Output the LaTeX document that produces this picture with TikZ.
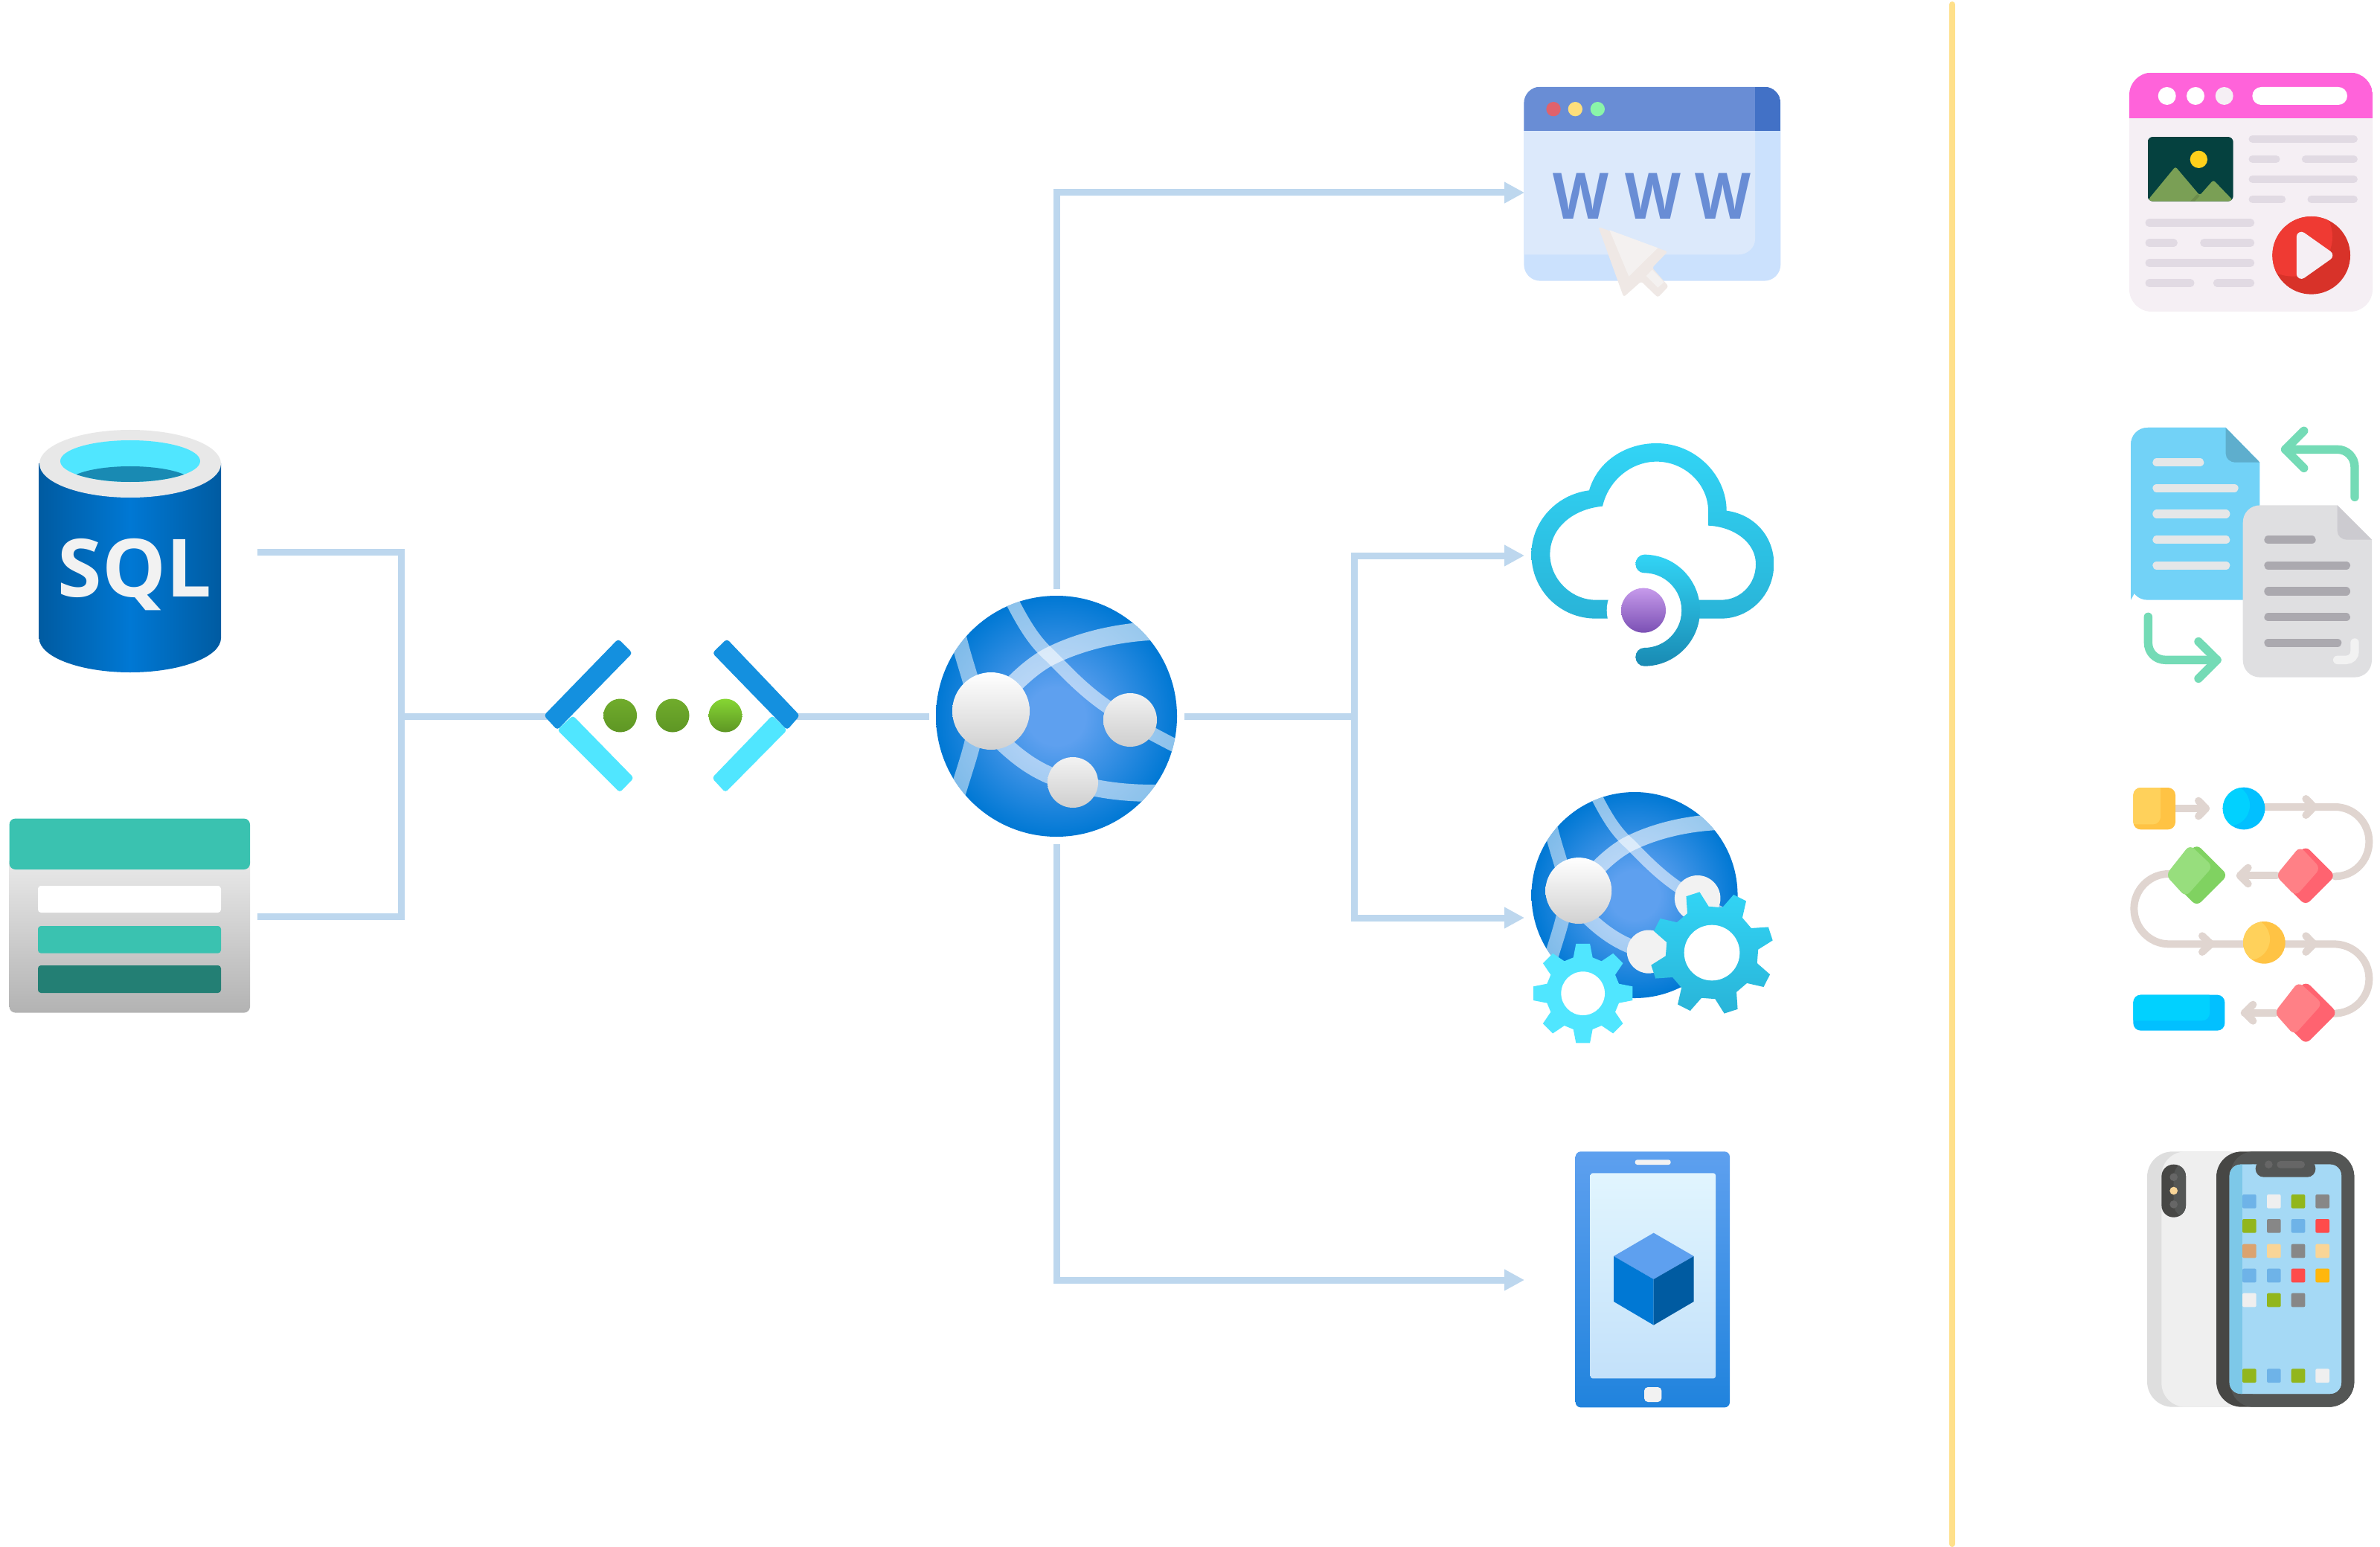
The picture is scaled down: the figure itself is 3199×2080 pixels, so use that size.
\documentclass[tikz,border=0pt]{standalone}
\usepackage{fontspec}
\usepackage{graphicx}
\setmainfont{Open Sans}
\usetikzlibrary{arrows.meta}
\definecolor{connC}{HTML}{BDD7EE}
\definecolor{divC}{HTML}{FFE08A}
\definecolor{azDark}{HTML}{005BA1}
\definecolor{azMid}{HTML}{0078D4}
\definecolor{azGlow}{HTML}{5EA0EF}
\definecolor{azCyan}{HTML}{50E6FF}
\definecolor{azSky}{HTML}{32D4F5}
\definecolor{azSkyB}{HTML}{29B4D8}
\definecolor{azDeep}{HTML}{198AB3}
\definecolor{azBright}{HTML}{1490DF}
\definecolor{teal}{HTML}{3AC2B0}
\definecolor{tealD}{HTML}{237F74}
\definecolor{wwwB}{HTML}{698DD5}
\definecolor{wwwD}{HTML}{4271C6}
\definecolor{wwwL}{HTML}{DCE9FB}
\definecolor{wwwM}{HTML}{CBE1FD}
\definecolor{curA}{HTML}{EFE8E5}
\definecolor{curB}{HTML}{F4F1F0}
\definecolor{pinkH}{HTML}{FF63DA}
\definecolor{pageB}{HTML}{F5EFF4}
\definecolor{pageL}{HTML}{E1DAE3}
\definecolor{imgD}{HTML}{05413F}
\definecolor{mountC}{HTML}{7A9F55}
\definecolor{playL}{HTML}{EF3A33}
\definecolor{playD}{HTML}{D83229}
\definecolor{flowL}{HTML}{E0D5D0}
\definecolor{yelA}{HTML}{FFC344}
\definecolor{yelB}{HTML}{FFD15B}
\definecolor{bluA}{HTML}{02C0FF}
\definecolor{bluB}{HTML}{01D1FF}
\definecolor{redA}{HTML}{FF6370}
\definecolor{redB}{HTML}{FF8086}
\definecolor{grnA}{HTML}{80D261}
\definecolor{grnB}{HTML}{97DE7D}
\definecolor{docB}{HTML}{72D2F7}
\definecolor{docBf}{HTML}{5EAECD}
\definecolor{docG}{HTML}{DFDFE1}
\definecolor{docGf}{HTML}{CCCBD0}
\definecolor{docGl}{HTML}{ABA9AF}
\definecolor{docWl}{HTML}{E5E7E8}
\definecolor{arrG}{HTML}{74DBB6}
\definecolor{phD}{HTML}{545655}
\definecolor{phE}{HTML}{474745}
\definecolor{phS}{HTML}{666666}
\definecolor{scrA}{HTML}{A5D9F5}
\definecolor{scrB}{HTML}{7DC8E8}
\definecolor{appB}{HTML}{6EB3E8}
\definecolor{appW}{HTML}{EFEFEF}
\definecolor{appG}{HTML}{92B61C}
\definecolor{appK}{HTML}{878787}
\definecolor{appR}{HTML}{FF4B4B}
\definecolor{appO}{HTML}{DBA36F}
\definecolor{appC}{HTML}{F9D597}
\definecolor{appY}{HTML}{FFB70D}
\pgfdeclareradialshading{globeglow}{\pgfpoint{0bp}{0bp}}{color(0bp)=(azGlow);color(6bp)=(azGlow);color(25bp)=(azMid);color(50bp)=(azMid)}
\tikzset{
  conn/.style={draw=connC,line width=4.5pt,line join=miter},
  connarrow/.style={conn,-{Triangle[length=13.5pt,width=13.5pt]}},
  zoomed/.style={scale=0.33333},
  bar/.style={line cap=round,line width=#1},
  ballshade/.style={top color=white,bottom color=black!18},
  ballsmall/.style={top color=black!5,bottom color=black!19},
  ballflat/.style={top color=black!5,bottom color=black!5},
  wletter/.style={text=wwwB,font=\bfseries\fontsize{43pt}{43pt}\selectfont,inner sep=0pt,anchor=base},
}
% globe: centre x, centre y, scale, style of the two small balls
\newcommand{\globeicon}[4]{%
  \begin{scope}[shift={(#1,#2)},scale=#3]
    \shade[shading=globeglow] (0,0) circle[radius=162];
    \begin{scope}
      \clip (0,0) circle[radius=162];
      \draw[white,opacity=.55,line width=#3*9pt] (-65,-165) .. controls (-45,-125) and (-30,-100) .. (-8,-81) .. controls (15,-58) and (40,-30) .. (80,-5) .. controls (100,8) and (130,25) .. (170,45);
      \draw[white,opacity=.6,line width=#3*12.5pt] (-88,-7) .. controls (-60,-45) and (-30,-70) .. (-8,-81) .. controls (30,-100) and (80,-113) .. (135,-115);
      \draw[white,opacity=.5,line width=#3*11pt] (-135,-120) .. controls (-125,-70) and (-105,-30) .. (-108,0) .. controls (-108,30) and (-120,60) .. (-135,110);
      \draw[white,opacity=.55,line width=#3*11.5pt] (-88,20) .. controls (-60,50) and (-25,80) .. (22,89) .. controls (60,100) and (100,105) .. (150,103);
    \end{scope}
    \shade[ballshade] (-88,-7) circle[radius=52];
    \shade[#4] (99,5) circle[radius=36];
    \shade[#4] (22,89) circle[radius=34];
  \end{scope}}
% gear: cx, cy, root r, tip r, half base angle, half tip angle, phase, style
\newcommand{\gearicon}[8]{%
  \shade[#8] ({#1+#3*cos(#7-#5)},{#2-#3*sin(#7-#5)})
    \foreach \k in {0,...,7}{
      -- ({#1+#3*cos(#7+45*\k-#5)},{#2-#3*sin(#7+45*\k-#5)})
      -- ({#1+#4*cos(#7+45*\k-#6)},{#2-#4*sin(#7+45*\k-#6)})
      -- ({#1+#4*cos(#7+45*\k+#6)},{#2-#4*sin(#7+45*\k+#6)})
      -- ({#1+#3*cos(#7+45*\k+#5)},{#2-#3*sin(#7+45*\k+#5)})
    } -- cycle;}
% rounded flow diamond: cx, cy, half size, dark, light
\newcommand{\flowdiamond}[5]{%
  \fill[#4,rounded corners=4pt] (#1-#3,#2) -- (#1,#2-#3) -- (#1+#3,#2) -- (#1,#2+#3) -- cycle;
  \fill[#5,rounded corners=4pt] (#1-#3,#2) -- (#1-#3+97,#2-#3+2) -- (#1+#3-60,#2-#3+90) -- (#1-#3+80,#2+#3-37) -- cycle;}
\begin{document}
\begin{tikzpicture}[x=0.5pt,y=-0.5pt]
\useasboundingbox (0,0) rectangle (3199,2080);
\fill[white] (0,0) rectangle (3199,2080);

% connector ends
\coordinate (sqlOut) at (346,742);
\coordinate (stoOut) at (346,1232);
\coordinate (bus) at (539,963);
\coordinate (vnetIn) at (760,963);
\coordinate (vnetOut) at (1060,963);
\coordinate (appIn) at (1249,963);
\coordinate (appTop) at (1420,792);
\coordinate (appBottom) at (1420,1135);
\coordinate (appRight) at (1592,963);
\coordinate (hub) at (1820,963);
\coordinate (wwwIn) at (2049,259);
\coordinate (cloudIn) at (2049,747);
\coordinate (gearIn) at (2049,1234);
\coordinate (mobileIn) at (2049,1721);
\coordinate (divTop) at (2624,6);
\coordinate (divBottom) at (2624,2076);

\draw[conn] (sqlOut) -| (bus) |- (stoOut);
\draw[conn] (bus) -- (vnetIn);
\draw[conn] (vnetOut) -- (appIn);
\draw[connarrow] (appTop) |- (wwwIn);
\draw[connarrow] (appBottom) |- (mobileIn);
\draw[conn] (appRight) -- (hub);
\draw[connarrow] (hub) |- (cloudIn);
\draw[connarrow] (hub) |- (gearIn);
\draw[draw=divC,line width=4pt,line cap=round] (divTop) -- (divBottom);

% SQL cylinder
\shade[left color=azDark,right color=azDark,middle color=azMid] (52.6,623) -- (52.6,858) .. controls (52.6,883) and (107,904) .. (175,904) .. controls (243,904) and (297,883) .. (297,858) -- (297,623) -- cycle;
\fill[black!9] (175,623.5) ellipse[x radius=122,y radius=45.5];
\fill[azCyan] (175,620) ellipse[x radius=94,y radius=28];
\begin{scope}
  \clip (175,620) ellipse[x radius=94,y radius=28];
  \fill[azDeep] (175,650) ellipse[x radius=85,y radius=23];
\end{scope}
\node[text=black!5,font=\bfseries\fontsize{54pt}{54pt}\selectfont,inner sep=0pt,anchor=base] (sqlText) at (181,802) {SQL};

% storage table
\shade[top color=black!8,bottom color=black!30,rounded corners=4pt] (12.6,1150) rectangle (336,1361.6);
\fill[teal,rounded corners=4pt] (12.6,1169) -- (12.6,1100.6) -- (336,1100.6) -- (336,1169) -- cycle;
\fill[white,rounded corners=2pt] (51,1191) rectangle (297,1227);
\fill[teal,rounded corners=2pt] (51,1245) rectangle (297,1281.6);
\fill[tealD,rounded corners=2pt] (51,1298) rectangle (297,1335);

% virtual network brackets
\fill[azCyan,rounded corners=2pt] (749,981.5) -- (770,962) -- (852,1046) -- (833,1065.5) -- cycle;
\fill[azBright,rounded corners=2pt] (731,962) -- (831,859) -- (850,878) -- (749,981.5) -- cycle;
\fill[azCyan,rounded corners=2pt] (1038,962) -- (1058,981.5) -- (975,1065.5) -- (957,1046) -- cycle;
\fill[azBright,rounded corners=2pt] (977,859) -- (1075,962) -- (1058,981.5) -- (957.5,878) -- cycle;
\shade[top color=green!45!black!80!white,bottom color=green!45!black!80!white,top color={rgb,255:red,112;green,172;blue,44},bottom color={rgb,255:red,94;green,150;blue,36}] (833.6,962) circle[radius=22.5];
\shade[top color={rgb,255:red,112;green,172;blue,44},bottom color={rgb,255:red,94;green,150;blue,36}] (904,962) circle[radius=22.5];
\shade[top color={rgb,255:red,134;green,214;blue,51},bottom color={rgb,255:red,94;green,150;blue,36}] (975,962) circle[radius=22.5];

% central web app globe
\globeicon{1420}{963}{1}{ballsmall}

% www window
\begin{scope}[shift={(2020,90)},zoomed]
  \fill[wwwM,rounded corners=11pt] (85,80) rectangle (1120,863);
  \fill[wwwL] (85,258) -- (1017,258) -- (1017,695) .. controls (1017,730) and (985,757) .. (950,757) -- (85,757) -- cycle;
  \begin{scope}
    \clip[rounded corners=11pt] (85,80) rectangle (1120,400);
    \fill[wwwB] (85,80) rectangle (1017,258);
    \fill[wwwD] (1017,80) rectangle (1120,258);
  \end{scope}
  \fill[white!0!red!55!wwwB,fill={rgb,255:red,224;green,98;blue,108}] (204,170) circle[radius=29];
  \fill[fill={rgb,255:red,255;green,223;blue,123}] (292,170) circle[radius=29];
  \fill[fill={rgb,255:red,138;green,245;blue,169}] (382,170) circle[radius=29];
  \node[wletter] (w1) at (316,615) {\scalebox{.9}[1]{W}};
  \node[wletter] (w2) at (605,615) {\scalebox{.9}[1]{W}};
  \node[wletter] (w3) at (889,615) {\scalebox{.9}[1]{W}};
  \fill[curA,rounded corners=1.5pt] (385,645) -- (665,745) -- (602,810) -- (668,885) -- (625,930) -- (558,865) -- (487,928) -- cycle;
  \fill[curB] (430,658) -- (625,730) -- (508,845) -- cycle;
  \fill[curB] (602,818) -- (650,868) -- (625,890) -- (578,843) -- cycle;
\end{scope}

% cloud
\begin{scope}[shift={(2030,570)},zoomed]
  \shade[top color=azSky,bottom color=azSkyB,even odd rule]
    (345,785) .. controls (200,785) and (85,670) .. (85,525) .. controls (85,395) and (185,285) .. (318,268) .. controls (350,155) and (460,78) .. (590,78) .. controls (745,78) and (872,205) .. (872,350) .. controls (985,365) and (1063,455) .. (1063,565) .. controls (1063,690) and (965,785) .. (850,785) -- cycle
    (345,710) .. controls (245,710) and (160,625) .. (160,525) .. controls (160,430) and (240,345) .. (372,332) .. controls (395,230) and (485,152) .. (590,152) .. controls (705,152) and (798,245) .. (798,350) -- (798,410) .. controls (905,415) and (990,480) .. (990,565) .. controls (990,650) and (925,710) .. (850,710) -- cycle;
  \fill[white] (540,752) circle[radius=151];
  \shade[top color=azSky,bottom color=azDeep] (540,527) .. controls (664,527) and (765,628) .. (765,752) .. controls (765,876) and (664,977) .. (540,977) .. controls (520,977) and (505,960) .. (505,940) .. controls (505,920) and (520,903) .. (540,903) .. controls (623,903) and (691,835) .. (691,752) .. controls (691,669) and (623,601) .. (540,601) .. controls (520,601) and (505,585) .. (505,565) .. controls (505,545) and (520,527) .. (540,527) -- cycle;
  \shade[top color={rgb,255:red,198;green,154;blue,235},bottom color={rgb,255:red,123;green,80;blue,180}] (537,752) circle[radius=90];
\end{scope}

% globe with gears
\globeicon{2197}{1203.5}{.855}{ballflat}
\begin{scope}[shift={(2030,1050)},zoomed]
  \gearicon{813}{693}{187}{250}{14}{6.5}{18}{top color=azSky,bottom color=azSkyB}
  \fill[white] (813,693) circle[radius=112];
  \gearicon{293}{857}{150}{202}{15}{8}{0}{top color=azCyan,bottom color=azCyan}
  \fill[white] (293,857) circle[radius=88];
\end{scope}

% tablet
\begin{scope}[shift={(2090,1530)},zoomed]
  \shade[top color=azGlow,bottom color={rgb,255:red,32;green,131;blue,221},rounded corners=3.5pt] (83,55) rectangle (705,1087);
  \fill[black!5,rounded corners=1.5pt] (323,88) rectangle (467,108);
  \shade[top color={rgb,255:red,225;green,245;blue,254},bottom color={rgb,255:red,195;green,225;blue,250},rounded corners=1.5pt] (143,142) rectangle (648,970);
  \fill[black!5,rounded corners=2.5pt] (360,1005) rectangle (430,1065);
  \fill[azGlow] (398,383) -- (560,477) -- (398,570) -- (237,477) -- cycle;
  \fill[azMid] (237,477) -- (398,570) -- (398,755) -- (237,660) -- cycle;
  \fill[azDark] (398,570) -- (560,477) -- (560,660) -- (398,755) -- cycle;
\end{scope}

% web page with video
\begin{scope}[shift={(2840,80)},zoomed]
  \fill[pageB,rounded corners=15pt] (66,53) rectangle (1047,1017);
  \begin{scope}
    \clip[rounded corners=15pt] (66,53) rectangle (1047,400);
    \fill[pinkH] (66,53) rectangle (1047,238);
  \end{scope}
  \fill[white] (218,147) circle[radius=36];
  \fill[white] (333,147) circle[radius=36];
  \fill[pageB] (449,147) circle[radius=36];
  \fill[white,rounded corners=6pt] (562,111) rectangle (945,183);
  \begin{scope}
    \clip[rounded corners=3.5pt] (140,312) rectangle (485,572);
    \fill[imgD] (140,312) rectangle (485,572);
    \fill[fill={rgb,255:red,255;green,208;blue,27}] (346,403) circle[radius=35];
    \fill[mountC,rounded corners=1.5pt] (145,562) -- (252,432) -- (350,548) -- (405,486) -- (482,566) -- (482,590) -- (145,590) -- cycle;
    \fill[black,opacity=.1] (312,572) -- (340,543) -- (350,550) -- (330,572) -- cycle;
  \end{scope}
  \foreach \yy/\aa/\bb in {321/563/971,402/563/658,402/777/971,483/563/971,564/563/681,564/800/971,659/146/555,740/146/245,740/367/555,821/146/555,902/146/313,902/420/555}
    \draw[pageL,bar=5.2pt] (\aa,\yy) -- (\bb,\yy);
  \fill[playD] (800,790) circle[radius=157];
  \begin{scope}
    \clip (800,790) circle[radius=157];
    \fill[playL] (725,715) circle[radius=160];
  \end{scope}
  \fill[pageB,draw=pageB,line width=6.6pt,line join=round] (760,715) -- (866,790) -- (760,865) -- cycle;
\end{scope}

% documents exchange
\begin{scope}[shift={(2840,560)},zoomed]
  \fill[docB,rounded corners=11.5pt] (72,740) -- (72,45) -- (455,45);
  \fill[docB] (455,45) -- (592,185) -- (592,740) -- (140,740) .. controls (100,740) and (72,710) .. (72,670) -- (72,115) .. controls (72,75) and (100,45) .. (140,45) -- cycle;
  \fill[docBf] (455,45) -- (592,185) -- (495,185) .. controls (472,185) and (455,170) .. (455,150) -- cycle;
  \foreach \yy/\bb in {185/350,289/489,393/455,497/455,601/455}
    \draw[docWl,bar=5.7pt] (177,\yy) -- (\bb,\yy);
  \fill[docG] (905,358) -- (1044,497) -- (1044,982) .. controls (1044,1022) and (1014,1052) .. (974,1052) -- (594,1052) .. controls (554,1052) and (524,1022) .. (524,982) -- (524,428) .. controls (524,388) and (554,358) .. (594,358) -- cycle;
  \fill[docGf] (905,358) -- (1044,497) -- (945,497) .. controls (922,497) and (905,482) .. (905,462) -- cycle;
  \foreach \yy/\bb in {497/801,601/940,705/940,809/940,913/905}
    \draw[docGl,bar=5.7pt] (627,\yy) -- (\bb,\yy);
  \draw[black!5,bar=5.7pt] (905,982) -- (940,982) .. controls (960,982) and (975,967) .. (975,948) -- (975,912);
  \draw[arrG,bar=5.7pt,line join=round] (975,325) -- (975,205) .. controls (975,165) and (945,133) .. (905,133) -- (695,133);
  \draw[arrG,bar=5.7pt,line join=round] (770,58) -- (695,133) -- (770,208);
  \draw[arrG,bar=5.7pt,line join=round] (142,808) -- (142,912) .. controls (142,952) and (172,982) .. (212,982) -- (420,982);
  \draw[arrG,bar=5.7pt,line join=round] (345,908) -- (420,982) -- (345,1057);
\end{scope}

% flow chart
\begin{scope}[shift={(2840,1040)},zoomed]
  \tikzset{flow/.style={flowL,line width=5pt,line cap=round,line join=round}}
  \draw[flow] (252,141) -- (375,141);
  \draw[flow] (345,110) -- (375,141) -- (345,172);
  \draw[flow] (612,135) -- (895,135) .. controls (972,135) and (1033,198) .. (1033,275) .. controls (1033,352) and (972,415) .. (895,415);
  \draw[flow] (778,102) -- (810,135) -- (778,168);
  \draw[flow] (660,412) -- (515,412);
  \draw[flow] (545,380) -- (512,412) -- (545,445);
  \draw[flow] (225,405) .. controls (148,405) and (85,468) .. (85,545) .. controls (85,622) and (148,688) .. (225,688) -- (525,688);
  \draw[flow] (360,655) -- (395,688) -- (360,720);
  \draw[flow] (695,688) -- (890,688) .. controls (970,688) and (1033,750) .. (1033,828) .. controls (1033,905) and (970,968) .. (890,968);
  \draw[flow] (778,655) -- (810,688) -- (778,720);
  \draw[flow] (655,965) -- (530,965);
  \draw[flow] (565,932) -- (532,965) -- (565,998);
  \fill[yelA,rounded corners=5pt] (82,57) rectangle (252,226);
  \begin{scope}
    \clip[rounded corners=5pt] (82,57) rectangle (252,226);
    \fill[yelB,rounded corners=5pt] (60,30) rectangle (192,205);
  \end{scope}
  \fill[bluA] (528,141) circle[radius=85];
  \begin{scope}
    \clip (528,141) circle[radius=85];
    \fill[bluB] (468,128) circle[radius=84];
  \end{scope}
  \flowdiamond{777}{412}{120}{redA}{redB}
  \flowdiamond{338}{410}{125}{grnA}{grnB}
  \flowdiamond{778}{965}{127}{redA}{redB}
  \fill[yelA] (610,682) circle[radius=85];
  \begin{scope}
    \clip (610,682) circle[radius=85];
    \fill[yelB] (548,668) circle[radius=85];
  \end{scope}
  \fill[bluA,rounded corners=5pt] (82,893) rectangle (451,1037);
  \begin{scope}
    \clip[rounded corners=5pt] (82,893) rectangle (451,1037);
    \fill[bluB,rounded corners=5pt] (60,870) rectangle (390,997);
  \end{scope}
\end{scope}

% phone
\begin{scope}[shift={(2860,1530)},zoomed]
  \fill[fill={rgb,255:red,222;green,222;blue,222},rounded corners=17pt] (78,55) rectangle (500,1085);
  \fill[appW,rounded corners=16pt] (136,55) rectangle (500,1085);
  \fill[phE,rounded corners=8pt] (136,107) rectangle (234,320);
  \begin{scope}
    \clip[rounded corners=8pt] (136,107) rectangle (234,320);
    \fill[phD] (185,160) .. controls (185,130) and (200,110) .. (215,107) -- (240,107) -- (240,320) -- (215,320) .. controls (195,300) and (185,290) .. (185,265) -- cycle;
  \end{scope}
  \fill[phS] (185,158) circle[radius=16];
  \fill[appC] (185,213) circle[radius=16];
  \fill[phS] (185,268) circle[radius=16];
  \fill[phE,rounded corners=17pt] (357,55) rectangle (913,1085);
  \begin{scope}
    \clip[rounded corners=17pt] (357,55) rectangle (913,1085);
    \fill[phD,rounded corners=15pt] (415,55) rectangle (960,1085);
  \end{scope}
  \fill[scrA,rounded corners=7.5pt] (410,107) rectangle (861,1032);
  \begin{scope}
    \clip[rounded corners=7.5pt] (410,107) rectangle (861,1032);
    \fill[scrB] (400,100) rectangle (462,1040);
    \fill[scrB] (462,100) rectangle (510,107);
    \fill[scrA,rounded corners=7pt] (462,107) rectangle (900,1032);
  \end{scope}
  \fill[phD,rounded corners=5.5pt] (515,90) -- (515,158) -- (757,158) -- (757,90) -- cycle;
  \fill[phS] (568,107) circle[radius=16];
  \fill[phS,rounded corners=2.4pt] (601,93) rectangle (714,122);
  \foreach \cx/\cy/\cc in {490/256/appB,589/256/appW,687/256/appG,785/256/appK,
    490/355/appG,589/355/appK,687/355/appB,785/355/appR,
    490/456/appO,589/456/appC,687/456/appK,785/456/appC,
    490/555/appB,589/555/appB,687/555/appR,785/555/appY,
    490/654/appW,589/654/appG,687/654/appK,
    490/959/appG,589/959/appB,687/959/appG,785/959/appW}
    \fill[fill=\cc,rounded corners=1pt] (\cx-28,\cy-28) rectangle (\cx+28,\cy+28);
\end{scope}
\end{tikzpicture}
\end{document}
